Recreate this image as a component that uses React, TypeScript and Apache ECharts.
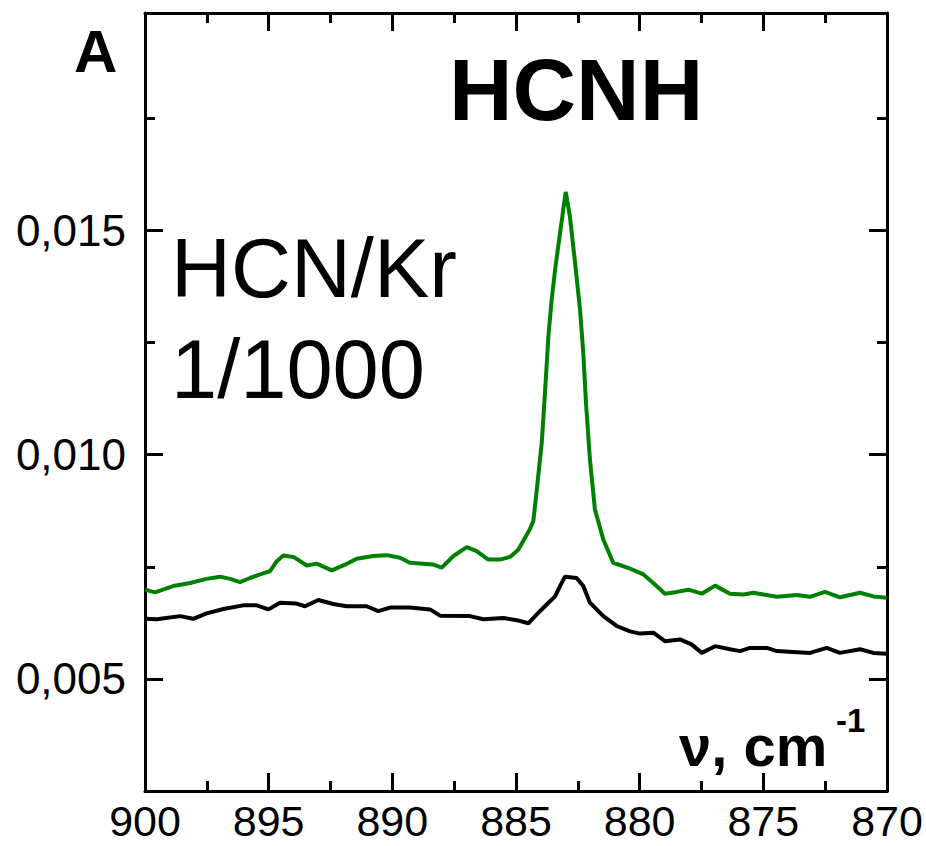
import React, { useEffect, useRef } from "react";
import * as echarts from "echarts";

// Wavenumber (cm^-1) and absorbance readings, green trace (HCNH)
const greenNu = [
  900.0, 899.6, 898.86, 898.18, 897.51, 896.97, 896.56, 896.16, 895.75, 895.35,
  894.95, 894.68, 894.41, 894.0, 893.46, 893.06, 892.45, 891.98, 891.44, 890.77,
  890.23, 889.69, 889.29, 888.75, 888.34, 888.0, 887.53, 886.99, 886.59, 886.12,
  885.65, 885.24, 884.91, 884.64, 884.43, 884.3, 884.16, 883.96, 883.83, 883.69,
  883.56, 883.42, 883.22, 883.09, 882.99, 882.82, 882.61, 882.41, 882.28, 882.17,
  882.01, 881.81, 881.47, 881.07, 880.39, 879.85, 879.45, 878.98, 878.5, 878.03,
  877.49, 876.95, 876.35, 875.81, 875.4, 874.46, 873.65, 873.11, 872.51, 871.9,
  871.09, 870.55, 870.01,
];
const greenAbs = [
  0.00699, 0.00693, 0.00707, 0.00714, 0.00723, 0.00728, 0.00723, 0.00716, 0.00725, 0.00733,
  0.0074, 0.00762, 0.00775, 0.00772, 0.00753, 0.00757, 0.00742, 0.00753, 0.00768, 0.00774,
  0.00776, 0.0077, 0.00759, 0.00757, 0.00755, 0.00748, 0.00774, 0.00794, 0.00785, 0.00766,
  0.00766, 0.00772, 0.00788, 0.00814, 0.00835, 0.00852, 0.00922, 0.01026, 0.01137, 0.01264,
  0.01345, 0.01412, 0.01494, 0.01546, 0.01586, 0.01531, 0.01427, 0.01323, 0.01227, 0.01115,
  0.00989, 0.00878, 0.00811, 0.00759, 0.00746, 0.00733, 0.00714, 0.0069, 0.00694, 0.00699,
  0.0069, 0.00708, 0.0069, 0.00688, 0.00692, 0.00683, 0.00687, 0.00683, 0.00694, 0.00682,
  0.00692, 0.00684, 0.00681,
];

// Black trace
const blackNu = [
  900.0, 899.53, 898.58, 898.05, 897.51, 896.83, 896.03, 895.48, 895.01, 894.54,
  893.87, 893.53, 892.99, 892.39, 891.84, 891.04, 890.57, 890.09, 889.29, 888.48,
  888.07, 886.86, 886.32, 885.51, 884.97, 884.5, 884.16, 883.76, 883.42, 883.22,
  883.02, 882.55, 882.28, 882.01, 881.47, 880.93, 880.39, 879.99, 879.45, 878.98,
  878.37, 877.9, 877.49, 876.95, 876.35, 875.94, 875.54, 874.86, 874.46, 873.11,
  872.44, 871.9, 871.09, 870.55, 870.01,
];
const blackAbs = [
  0.00634, 0.00633, 0.0064, 0.00634, 0.00646, 0.00656, 0.00664, 0.00664, 0.00655, 0.0067,
  0.00668, 0.00662, 0.00676, 0.00667, 0.00662, 0.00662, 0.00651, 0.00659, 0.00659, 0.00655,
  0.00641, 0.0064, 0.00633, 0.00636, 0.00631, 0.00624, 0.00644, 0.00666, 0.00684, 0.00707,
  0.00728, 0.00725, 0.00707, 0.0067, 0.0064, 0.00618, 0.00606, 0.00601, 0.00603, 0.00584,
  0.00588, 0.00577, 0.00558, 0.00573, 0.00566, 0.00562, 0.00569, 0.00569, 0.00562, 0.00558,
  0.00569, 0.00558, 0.00566, 0.00558, 0.00556,
];

const yMajorTicks = [0.005, 0.01, 0.015];
const yMinorTicks = [0.0075, 0.0125, 0.0175];

const FONT = "'Liberation Sans', Arial, sans-serif";
const BLACK = "#000000";
const GREEN = "#008000";

export default function App() {
  const ref = useRef<HTMLDivElement>(null);

  useEffect(() => {
    if (!ref.current) return;
    const chart = echarts.init(ref.current, undefined, { renderer: "svg" });

    const axisLine = { show: true, lineStyle: { color: BLACK, width: 3 } };
    const majorTick = { show: true, inside: true, length: 18, lineStyle: { color: BLACK, width: 3 } };
    const minorTick = { show: true, splitNumber: 2, length: 10, lineStyle: { color: BLACK, width: 3 } };

    const xBase = {
      type: "value" as const,
      min: 870,
      max: 900,
      interval: 5,
      inverse: true,
      axisLine,
      axisTick: majorTick,
      minorTick,
      splitLine: { show: false },
      minorSplitLine: { show: false },
    };

    const yBase = {
      type: "value" as const,
      min: 0.0025,
      max: 0.01985,
      splitLine: { show: false },
    };

    const pair = (xs: number[], ys: number[]) => xs.map((x, i) => [x, ys[i]]);

    chart.setOption({
      animation: false,
      backgroundColor: "#ffffff",
      grid: { left: 145, right: 39, top: 13, bottom: 55 },
      xAxis: [
        {
          ...xBase,
          position: "bottom",
          axisLabel: { show: true, color: BLACK, fontSize: 43, fontFamily: FONT, margin: 8 },
        },
        {
          ...xBase,
          position: "top",
          axisLabel: { show: false },
        },
      ],
      yAxis: [
        {
          ...yBase,
          position: "left",
          axisLine,
          axisTick: { ...majorTick, customValues: yMajorTicks },
          axisLabel: {
            show: true,
            customValues: yMajorTicks,
            color: BLACK,
            fontSize: 44,
            fontFamily: FONT,
            margin: 19,
            formatter: (v: number) => v.toFixed(3).replace(".", ","),
          },
        },
        {
          ...yBase,
          position: "left",
          axisLine: { show: false },
          axisTick: { ...majorTick, length: 10, customValues: yMinorTicks },
          axisLabel: { show: false },
        },
        {
          ...yBase,
          position: "right",
          axisLine,
          axisTick: { ...majorTick, customValues: yMajorTicks },
          axisLabel: { show: false },
        },
        {
          ...yBase,
          position: "right",
          axisLine: { show: false },
          axisTick: { ...majorTick, length: 10, customValues: yMinorTicks },
          axisLabel: { show: false },
        },
      ],
      series: [
        {
          type: "line",
          xAxisIndex: 0,
          yAxisIndex: 0,
          data: pair(blackNu, blackAbs),
          showSymbol: false,
          lineStyle: { color: BLACK, width: 4 },
          itemStyle: { color: BLACK },
        },
        {
          type: "line",
          xAxisIndex: 0,
          yAxisIndex: 0,
          data: pair(greenNu, greenAbs),
          showSymbol: false,
          lineStyle: { color: GREEN, width: 4 },
          itemStyle: { color: GREEN },
        },
      ],
      graphic: [
        {
          type: "text",
          x: 74,
          y: 51,
          style: { text: "A", font: `bold 60px ${FONT}`, fill: BLACK, verticalAlign: "middle" },
        },
        {
          type: "text",
          x: 449,
          y: 89,
          style: { text: "HCNH", font: `bold 88px ${FONT}`, fill: BLACK, verticalAlign: "middle" },
        },
        {
          type: "text",
          x: 171,
          y: 268,
          style: { text: "HCN/Kr", font: `83px ${FONT}`, fill: BLACK, verticalAlign: "middle" },
        },
        {
          type: "text",
          x: 171,
          y: 369,
          style: { text: "1/1000", font: `83px ${FONT}`, fill: BLACK, verticalAlign: "middle" },
        },
        {
          type: "text",
          x: 679,
          y: 745,
          style: { text: "ν, cm", font: `bold 58px ${FONT}`, fill: BLACK, verticalAlign: "middle" },
        },
        {
          type: "text",
          x: 836,
          y: 720,
          style: { text: "-1", font: `bold 33px ${FONT}`, fill: BLACK, verticalAlign: "middle" },
        },
      ],
    });

    return () => chart.dispose();
  }, []);

  return (
    <div
      ref={ref}
      style={{ position: "absolute", left: 0, top: 0, width: 926, height: 846, background: "#fff" }}
    />
  );
}
